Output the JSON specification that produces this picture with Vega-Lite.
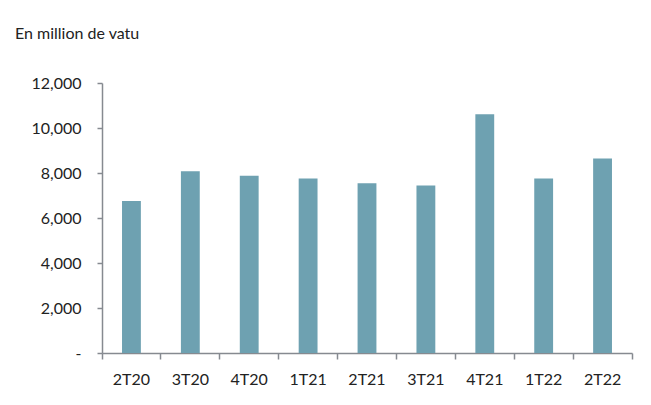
{
  "$schema": "https://vega.github.io/schema/vega-lite/v6.json",
  "width": 530,
  "height": 270,
  "autosize": {"type": "none"},
  "padding": {"left": 102, "top": 83, "right": 19, "bottom": 52},
  "background": "white",
  "title": {
    "text": "En million de vatu",
    "anchor": "start",
    "frame": "group",
    "dx": -87,
    "offset": 20,
    "baseline": "alphabetic",
    "font": "Lato",
    "fontSize": 16,
    "fontWeight": "normal",
    "color": "#222222"
  },
  "data": {
    "values": [
      {"q": "2T20", "v": 6760},
      {"q": "3T20", "v": 8080},
      {"q": "4T20", "v": 7880},
      {"q": "1T21", "v": 7760},
      {"q": "2T21", "v": 7540},
      {"q": "3T21", "v": 7450},
      {"q": "4T21", "v": 10610},
      {"q": "1T22", "v": 7760},
      {"q": "2T22", "v": 8650}
    ]
  },
  "mark": {"type": "bar", "width": {"band": 0.32}, "color": "#6ea1b1"},
  "encoding": {
    "x": {
      "field": "q",
      "type": "nominal",
      "sort": null,
      "scale": {"paddingInner": 0, "paddingOuter": 0},
      "axis": {
        "title": null,
        "labelAngle": 0,
        "bandPosition": 1,
        "tickExtra": true,
        "domainColor": "#868a90",
        "tickColor": "#868a90",
        "domainWidth": 1.5,
        "tickWidth": 1.5,
        "tickSize": 6,
        "labelPadding": 12,
        "labelFont": "Lato",
        "labelFontSize": 16,
        "labelColor": "#222222"
      }
    },
    "y": {
      "field": "v",
      "type": "quantitative",
      "scale": {"domain": [0, 12000]},
      "axis": {
        "title": null,
        "values": [0, 2000, 4000, 6000, 8000, 10000, 12000],
        "labelExpr": "datum.value === 0 ? '-' : format(datum.value, ',')",
        "grid": false,
        "domainColor": "#868a90",
        "tickColor": "#868a90",
        "domainWidth": 1.5,
        "tickWidth": 1.5,
        "tickSize": 5,
        "labelPadding": 16,
        "labelFont": "Lato",
        "labelFontSize": 16,
        "labelColor": "#222222"
      }
    }
  },
  "config": {"view": {"stroke": null}}
}
